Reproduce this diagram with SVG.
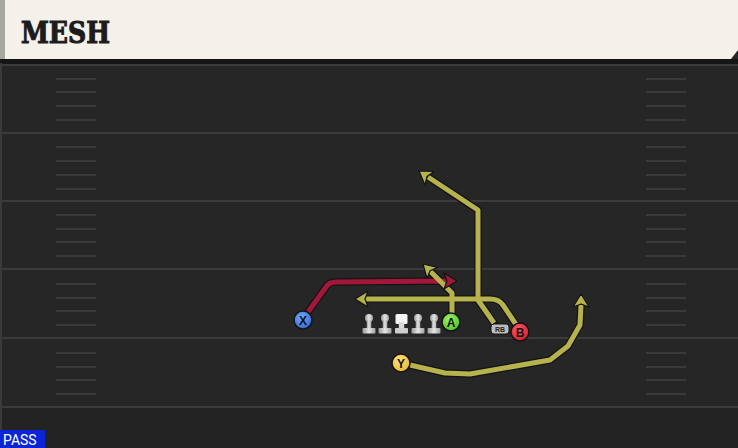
<svg xmlns="http://www.w3.org/2000/svg" width="738" height="448" viewBox="0 0 738 448">
<defs>
<style>
.fl{stroke:#3b3b3b;stroke-width:2}
.hm{stroke:#3a3a3a;stroke-width:2}
.out{fill:none;stroke:#141414;stroke-width:7.5;stroke-linejoin:round;stroke-linecap:round}
.yl{fill:none;stroke:#b6b24c;stroke-width:5;stroke-linejoin:round}
.rd{fill:none;stroke:#a3173a;stroke-width:5;stroke-linejoin:round}
.yh{fill:#b6b24c;stroke:#141414;stroke-width:1.2;stroke-linejoin:round}
.rh{fill:#a3173a;stroke:#141414;stroke-width:1.2;stroke-linejoin:round}
.pl{stroke:#151515;stroke-width:1.5}
.lt{font-family:"Liberation Sans",Arial,sans-serif;font-size:12px;font-weight:bold;fill:#111;text-anchor:middle}
</style>
<radialGradient id="gx" cx="0.4" cy="0.35" r="0.7"><stop offset="0" stop-color="#6fa6ff"/><stop offset="1" stop-color="#2f6bd0"/></radialGradient>
<radialGradient id="ga" cx="0.4" cy="0.35" r="0.7"><stop offset="0" stop-color="#9cf26a"/><stop offset="1" stop-color="#4cc21f"/></radialGradient>
<radialGradient id="gb" cx="0.4" cy="0.35" r="0.7"><stop offset="0" stop-color="#ff5a66"/><stop offset="1" stop-color="#d41a2e"/></radialGradient>
<radialGradient id="gy" cx="0.4" cy="0.35" r="0.7"><stop offset="0" stop-color="#ffe27a"/><stop offset="1" stop-color="#e8b72a"/></radialGradient>
<linearGradient id="olg" x1="0" y1="0" x2="1" y2="0"><stop offset="0" stop-color="#9a9a9a"/><stop offset="0.5" stop-color="#e6e6e6"/><stop offset="1" stop-color="#a0a0a0"/></linearGradient>
<g id="lm">
<circle cx="0" cy="-11" r="4"/>
<rect x="-2.3" y="-9" width="4.6" height="9"/>
<rect x="-6.5" y="-1" width="13" height="5.5" rx="1"/>
</g>
</defs>

<!-- field -->
<rect x="0" y="0" width="738" height="448" fill="#262626"/>
<rect x="0" y="407" width="738" height="41" fill="#232323"/>
<rect x="0" y="59" width="738" height="5" fill="#151515"/>
<line x1="1" y1="63" x2="1" y2="448" stroke="#3a3a3a" stroke-width="2"/>
<g id="yardlines">
<line class="fl" x1="0" y1="65" x2="738" y2="65"/>
<line class="fl" x1="0" y1="133" x2="738" y2="133"/>
<line class="fl" x1="0" y1="201" x2="738" y2="201"/>
<line class="fl" x1="0" y1="269" x2="738" y2="269"/>
<line class="fl" x1="0" y1="338" x2="738" y2="338"/>
<line class="fl" x1="0" y1="407" x2="738" y2="407"/>
</g>
<g id="hashes">
<path class="hm" d="M56,79H96M56,92H96M56,106H96M56,120H96M56,147H96M56,161H96M56,175H96M56,189H96M56,215H96M56,229H96M56,242H96M56,256H96M56,284H96M56,298H96M56,311H96M56,325H96M56,353H96M56,367H96M56,380H96M56,394H96"/>
<path class="hm" d="M646,79H686M646,92H686M646,106H686M646,120H686M646,147H686M646,161H686M646,175H686M646,189H686M646,215H686M646,229H686M646,242H686M646,256H686M646,284H686M646,298H686M646,311H686M646,325H686M646,353H686M646,367H686M646,380H686M646,394H686"/>
</g>

<!-- header -->
<g id="header">
<path d="M5,0H738V50L731,59H5Z" fill="#f4f1ea"/>
<rect x="0" y="0" width="5" height="59" fill="#a6a7a1"/>
<text x="21" y="43" font-family="'DejaVu Serif',serif" font-weight="bold" font-size="29" textLength="89" lengthAdjust="spacingAndGlyphs" fill="#1c1c1c" stroke="#1c1c1c" stroke-width="1.1">MESH</text>
</g>

<!-- connectors -->
<g id="connectors">
<path class="out" d="M308,312L326,287Q329,282 336,282L448,281"/>
<path class="out" d="M517,326L503,305Q499,299 490,299L365,299"/>
<path class="out" d="M494,323L478,300L478,210L428,177"/>
<path class="out" d="M452,313L452,293L430,271"/>
<path class="out" d="M410,365L445,373L470,374L550,360L568,346L580,325L581,305"/>
<path class="rd" d="M308,312L326,287Q329,282 336,282L448,281"/>
<path class="yl" d="M517,326L503,305Q499,299 490,299L365,299"/>
<path class="yl" d="M494,323L478,300L478,210L428,177"/>
<path class="yl" d="M452,313L452,293L430,271"/>
<path class="yl" d="M410,365L445,373L470,374L550,360L568,346L580,325L581,305"/>
<polygon class="rh" points="457,281 444,273 447,281 444,289"/>
<polygon class="yh" points="355,299 368,291 365,299 368,307"/>
<polygon class="yh" points="419,171 434,171.5 427,176.5 425,185"/>
<polygon class="yh" points="423,264 437.5,267.5 430,270.7 427,278.5"/>
<polygon class="yh" points="581,294 589,307 581,304 573,307"/>
</g>

<!-- offensive line -->
<g id="oline" fill="url(#olg)">
<use href="#lm" x="369" y="329"/>
<use href="#lm" x="385" y="329"/>
<g id="center">
<rect x="395.5" y="314" width="12" height="10" rx="1.5" fill="#f4f4f4"/>
<rect x="398.8" y="322" width="5.4" height="7" fill="#d8d8d8"/>
<rect x="395" y="328" width="13" height="5.5" rx="1" fill="#cfcfcf"/>
</g>
<use href="#lm" x="418" y="329"/>
<use href="#lm" x="434" y="329"/>
</g>

<g id="X"><circle class="pl" cx="303" cy="320" r="9" fill="url(#gx)"/><text class="lt" x="303" y="324.5">X</text></g>
<g id="A"><circle class="pl" cx="451" cy="322" r="9" fill="url(#ga)"/><text class="lt" x="451" y="326.5">A</text></g>
<g id="B"><circle class="pl" cx="520" cy="332" r="9" fill="url(#gb)"/><text class="lt" x="520" y="336.5">B</text></g>
<g id="Y"><circle class="pl" cx="401" cy="363" r="9" fill="url(#gy)"/><text class="lt" x="401" y="367.5">Y</text></g>
<g id="RB"><rect x="491" y="324" width="18" height="10" rx="3" fill="#bdbdbd" stroke="#151515" stroke-width="1"/><text x="500" y="331.5" font-family="'Liberation Sans',Arial,sans-serif" font-size="7" font-weight="bold" fill="#222" text-anchor="middle">RB</text></g>

<g id="pass">
<rect x="0" y="430" width="45" height="18" fill="#0b24d6"/>
<text x="3" y="445" font-family="Roboto,'Liberation Sans',sans-serif" font-size="14" fill="#ffffff">PASS</text>
</g>
</svg>
